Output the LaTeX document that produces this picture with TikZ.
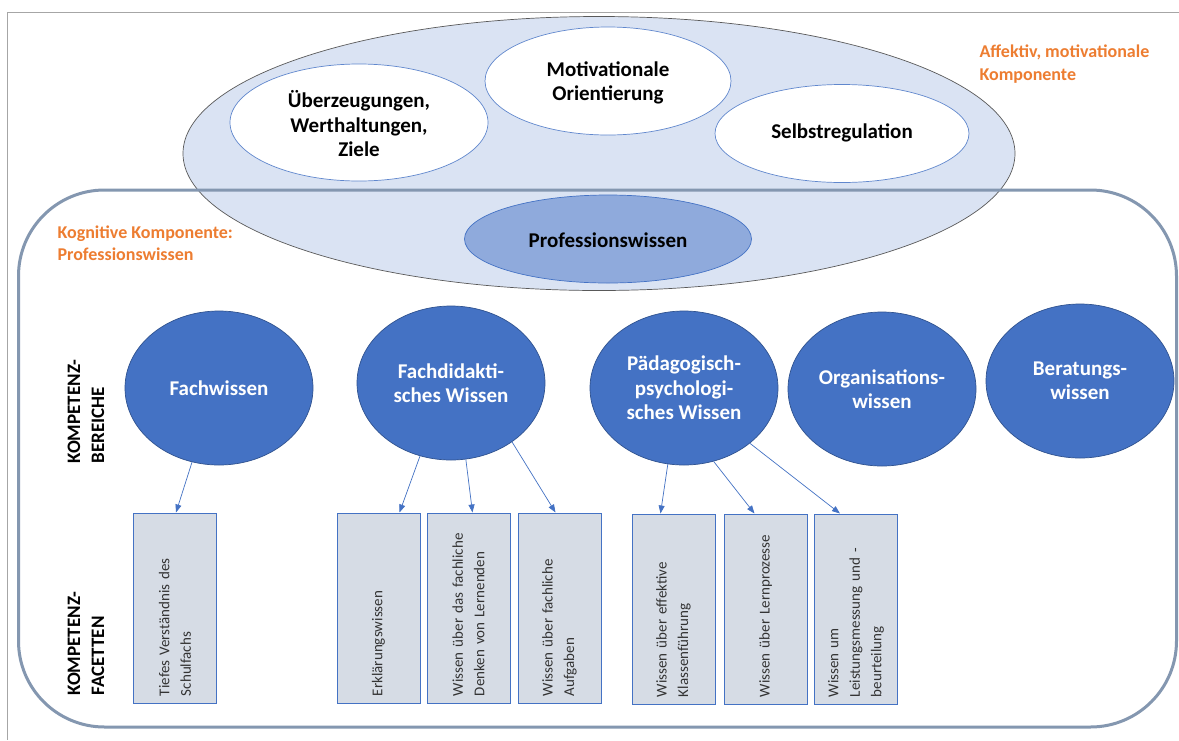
\documentclass[tikz,border=0pt]{standalone}
\usepackage{fontspec}
\setmainfont{Carlito}
\usetikzlibrary{shapes.geometric,arrows.meta}
\definecolor{lblue}{HTML}{DAE3F3}
\definecolor{mblue}{HTML}{8FAADC}
\definecolor{dblue}{HTML}{4472C4}
\definecolor{dline}{HTML}{2F528F}
\definecolor{framec}{HTML}{8497B0}
\definecolor{boxfill}{HTML}{D6DCE5}
\definecolor{orng}{HTML}{ED7D31}
\newcommand{\lblfont}{\fontsize{21}{24.5}\selectfont\bfseries}
\newcommand{\klblfont}{\fontsize{19}{24}\selectfont\bfseries}
\newcommand{\fctfont}{\fontsize{15}{21.5}\selectfont}
\newcommand{\orgfont}{\fontsize{18}{22.5}\selectfont\bfseries}
\tikzset{
  bigell/.style={ellipse, draw=black!65, fill=lblue, line width=0.7pt, inner sep=0pt},
  whell/.style={ellipse, draw=dblue!85, fill=white, line width=0.7pt, inner sep=0pt},
  profell/.style={ellipse, draw=dblue, fill=mblue, line width=0.7pt, inner sep=0pt},
  area/.style={ellipse, draw=dline, fill=dblue, line width=0.7pt, inner sep=0pt,
     minimum width=188pt, minimum height=154pt},
  lbl/.style={font=\lblfont, align=center, text=black},
  wlbl/.style={font=\lblfont, align=center, text=white},
  facet/.style={draw=dblue, fill=boxfill, line width=1pt, rotate=90,
     minimum width=190pt, minimum height=83pt, text width=176pt, align=left,
     font=\fctfont, text=black!80, inner sep=0pt},
  arr/.style={-{Triangle[length=8pt,width=6pt]}, draw=dblue, line width=0.7pt},
  orglbl/.style={text=orng, font=\orgfont, align=left, anchor=west},
  klbl/.style={font=\klblfont, align=left, rotate=90, anchor=west},
  framel/.style={draw=gray!70, line width=1pt},
  kogframe/.style={draw=framec, line width=3pt, rounded corners=86pt},
}
\begin{document}
\begin{tikzpicture}[x=1pt,y=-1pt]
\useasboundingbox (0,0) rectangle (1179,740);
\fill[white] (0,0) rectangle (1179,740);
% page frame
\coordinate (ftl) at (7,12);
\coordinate (ftr) at (1179,12);
\coordinate (fbl) at (7,740);
\draw[framel] (ftr) -- (ftl) -- (fbl);

% affective component
\node[bigell, minimum width=832pt, minimum height=274pt] (aff) at (599,153.5) {};
\node[whell, minimum width=258pt, minimum height=117pt] (ueb) at (359,122.5) {};
\node[lbl] (uebt) at (359,124) {Überzeugungen,\\Werthaltungen,\\Ziele};
\node[whell, minimum width=246pt, minimum height=108pt] (mot) at (608,81) {};
\node[lbl] (mott) at (608,83) {Motivationale\\Orientierung};
\node[whell, minimum width=254pt, minimum height=98pt] (sel) at (842,133.5) {};
\node[lbl] (selt) at (842,133) {Selbstregulation};

% cognitive frame
\node[kogframe, minimum width=1158pt, minimum height=537pt] (kog) at (597.5,458.5) {};
\node[profell, minimum width=287pt, minimum height=88pt] (pro) at (608,239) {};
\node[lbl] (prot) at (608,240) {Professionswissen};

% orange labels
\node[orglbl] (affl) at (976,64) {Affektiv, motivationale\\Komponente};
\node[orglbl] (kogl) at (54,243) {Kognitive Komponente:\\Professionswissen};

% side labels
\node[klbl] (kb) at (86,467) {KOMPETENZ-\\BEREICHE};
\node[klbl] (kf) at (86,699) {KOMPETENZ-\\FACETTEN};

% competence areas
\node[area] (fw) at (219,388) {};
\node[wlbl] at (fw) {Fachwissen};
\node[area] (fd) at (451,383) {};
\node[wlbl] at (fd) {Fachdidakti-\\sches Wissen};
\node[area] (pp) at (684,388) {};
\node[wlbl] at (pp) {Pädagogisch-\\psychologi-\\sches Wissen};
\node[area] (ow) at (882,389) {};
\node[wlbl] at (ow) {Organisations-\\wissen};
\node[area] (bw) at (1080,381) {};
\node[wlbl] at (bw) {Beratungs-\\wissen};

% facets
\node[facet] (f1) at (175,608) {Tiefes Verständnis des\\Schulfachs};
\node[facet] (f2) at (378.5,608) {Erklärungswissen};
\node[facet] (f3) at (468.5,608) {Wissen über das fachliche\\Denken von Lernenden};
\node[facet] (f4) at (559.5,608) {Wissen über fachliche\\Aufgaben};
\node[facet] (f5) at (673.5,609) {Wissen über effektive\\Klassenführung};
\node[facet] (f6) at (765.5,609) {Wissen über Lernprozesse};
\node[facet] (f7) at (856,609) {Wissen um\\Leistungsmessung und -\\beurteilung};

% arrows
\draw[arr] (fw.250) -- ([xshift=1pt]f1.east);
\draw[arr] (fd.247) -- ([xshift=21pt]f2.east);
\draw[arr] (fd.281) -- ([xshift=4pt]f3.east);
\draw[arr] (fd.316) -- ([xshift=-4pt]f4.east);
\draw[arr] (pp.258) -- ([xshift=-13pt]f5.east);
\draw[arr] (pp.292) -- ([xshift=-11pt]f6.east);
\draw[arr] (pp.320) -- ([xshift=-16pt]f7.east);
\end{tikzpicture}
\end{document}
